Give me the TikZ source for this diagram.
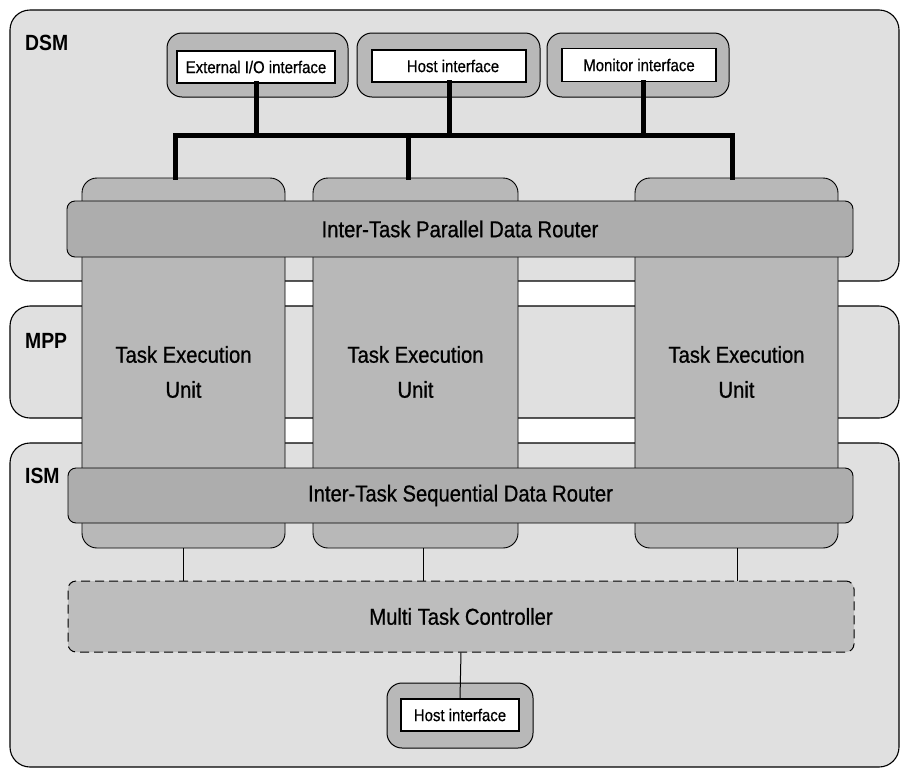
\documentclass[tikz,border=0pt]{standalone}
\usepackage{fontspec}
\setmainfont[FakeStretch=0.88]{Liberation Sans}
\newfontfamily\diagfont[FakeStretch=0.88, FakeBold=0.7]{Liberation Sans}
\usetikzlibrary{calc}
\definecolor{regionfill}{gray}{0.88}
\definecolor{unitfill}{gray}{0.72}
\definecolor{routerfill}{gray}{0.68}
\definecolor{ifacefill}{gray}{0.72}
\definecolor{mtcfill}{gray}{0.74}
\tikzset{
  region/.style={draw=black, line width=1.1pt, fill=regionfill, rounded corners=20pt, inner sep=0pt},
  regionlabel/.style={anchor=base west, inner sep=0pt, font=\fontsize{22}{26}\selectfont\bfseries},
  unitbox/.style={draw=black, line width=0.9pt, fill=unitfill, rounded corners=15pt, inner sep=0pt},
  unitlabel/.style={align=center, inner sep=0pt, font=\diagfont\fontsize{23}{35}\selectfont},
  router/.style={draw=black, line width=0.9pt, fill=routerfill, rounded corners=8pt, inner sep=0pt, font=\diagfont\fontsize{23}{28}\selectfont},
  ctrl/.style={draw=black, line width=1pt, dash pattern=on 9pt off 5pt, fill=mtcfill, rounded corners=8pt, inner sep=0pt, font=\diagfont\fontsize{23}{28}\selectfont},
  ifaceouter/.style={draw=black, line width=1pt, fill=ifacefill, rounded corners=15pt, inner sep=0pt},
  ifaceinner/.style={draw=black, line width=1.4pt, fill=white, inner sep=0pt, font=\diagfont\fontsize{17}{20}\selectfont},
  bus/.style={line width=5pt, line cap=rect, line join=miter},
  link/.style={line width=1pt},
}
\begin{document}
\begin{tikzpicture}[x=1pt, y=-1pt]
\useasboundingbox (0,0) rectangle (900,769);
\fill[white] (0,0) rectangle (900,769);

% three layers spanning the full width
\node[region, minimum width=889pt, minimum height=271pt] (dsm) at (454.5,145.5) {};
\node[region, minimum width=889pt, minimum height=112pt] (mpp) at (454.5,362) {};
\node[region, minimum width=889pt, minimum height=324pt] (ism) at (454.5,605) {};
\node[regionlabel] (dsmlabel) at (25,50) {DSM};
\node[regionlabel] (mpplabel) at (25,348) {MPP};
\node[regionlabel] (ismlabel) at (25,483) {ISM};

% task execution units
\node[unitbox, minimum width=203pt, minimum height=370pt] (teu1) at (183.5,363) {};
\node[unitbox, minimum width=205pt, minimum height=370pt] (teu2) at (415.5,363) {};
\node[unitbox, minimum width=203pt, minimum height=370pt] (teu3) at (736.5,363) {};
\node[unitlabel] (teu1text) at (183.5,372) {Task Execution\\Unit};
\node[unitlabel] (teu2text) at (415.5,372) {Task Execution\\Unit};
\node[unitlabel] (teu3text) at (736.5,372) {Task Execution\\Unit};

% data routers
\node[router, minimum width=786pt, minimum height=56pt] (pdr) at (460,229) {Inter-Task Parallel Data Router};
\node[router, minimum width=785pt, minimum height=55pt] (sdr) at (460.5,495.5) {Inter-Task Sequential Data Router};

% multi task controller
\node[ctrl, minimum width=786pt, minimum height=71pt] (mtc) at (461,616.5) {Multi Task Controller};

% interfaces
\node[ifaceouter, minimum width=181pt, minimum height=64pt] (extouter) at (257.5,65) {};
\node[ifaceinner, minimum width=158pt, minimum height=32pt] (ext) at (256,67) {External I/O interface};
\node[ifaceouter, minimum width=183pt, minimum height=64pt] (hostouter) at (448.5,65) {};
\node[ifaceinner, minimum width=154pt, minimum height=32pt] (host) at (449,66) {\hspace{8pt}Host interface};
\node[ifaceouter, minimum width=182pt, minimum height=64pt] (monouter) at (638,65) {};
\node[ifaceinner, minimum width=154pt, minimum height=33pt] (mon) at (639,65) {Monitor interface};
\node[ifaceouter, minimum width=146pt, minimum height=65pt] (hostbouter) at (460,715.5) {};
\node[ifaceinner, minimum width=118pt, minimum height=32pt] (hostb) at (460,715) {Host interface};

% interface bus
\coordinate (busL) at (175,135);
\coordinate (busM) at (408,135);
\coordinate (busR) at (732,135);
\draw[bus] (teu1.north -| busL) -- (busL) -- (busR) -- (teu3.north -| busR);
\draw[bus] (busM) -- (teu2.north -| busM);
\draw[bus] (ext.south) -- (ext.south |- busL);
\draw[bus] (host.south) -- (host.south |- busL);
\draw[bus] ([xshift=4pt]mon.south) -- ([xshift=4pt]mon.south |- busL);

% links to the controller
\coordinate (t1) at (183,0);
\coordinate (t2) at (423,0);
\coordinate (t3) at (737,0);
\draw[link] (teu1.south -| t1) -- (mtc.north -| t1);
\draw[link] (teu2.south -| t2) -- (mtc.north -| t2);
\draw[link] (teu3.south -| t3) -- (mtc.north -| t3);
\draw[link] (mtc.south) -- (hostb.north);
\end{tikzpicture}
\end{document}
